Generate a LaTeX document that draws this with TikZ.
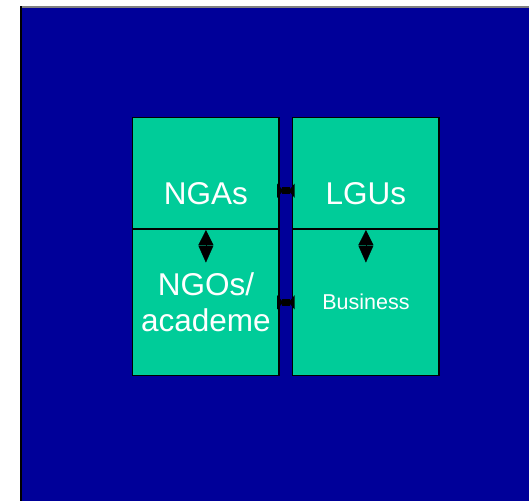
\documentclass[tikz,border=0pt]{standalone}
\usepackage{fontspec}
\setmainfont{Liberation Sans}
\usetikzlibrary{arrows.meta, positioning}
\definecolor{slideblue}{RGB}{0,0,153}
\definecolor{cellgreen}{RGB}{0,204,153}
\tikzstyle{cell} = [rectangle, draw=black, line width=1.6pt, fill=cellgreen, minimum width=146.5pt, inner sep=0pt, outer sep=0pt]
\tikzstyle{big} = [text=white, font=\fontsize{31.5}{36.5}\selectfont, align=center]
\tikzstyle{small} = [text=white, font=\fontsize{21.5}{25}\selectfont]
\tikzstyle{vlink} = [line width=0.4pt, {Triangle[length=15pt, width=15pt]}-{Triangle[length=17pt, width=15pt]}, black]
\tikzstyle{hlink} = [line width=7pt, {Triangle[reversed, length=6pt, width=14pt]}-{Triangle[reversed, length=6pt, width=14pt]}, black]

\begin{document}
\begin{tikzpicture}[x=1pt, y=1pt]

	% Background
	\useasboundingbox (0,0) rectangle (529,-501);
	\fill[slideblue] (20,-6) rectangle (529,-501);
	\draw[gray, line width=2pt] (20,-7) -- (529,-7);
	\draw[black, line width=2pt] (21,-6) -- (21,-501);

	% Boxes
	\node (ngas) [cell, minimum height=111.7pt] at (205.9,-173.2) {};
	\node (ngos) [cell, minimum height=146.5pt, below=0pt of ngas] {};
	\node (lgus) [cell, minimum height=111.7pt, right=13.5pt of ngas] {};
	\node (business) [cell, minimum height=146.5pt, below=0pt of lgus] {};

	% Labels
	\node (ngas_txt) [big] at ([yshift=-20pt]ngas.center) {NGAs};
	\node (lgus_txt) [big] at ([yshift=-20pt]lgus.center) {LGUs};
	\node (ngos_txt) [big] at (ngos.center) {NGOs/\\academe};
	\node (business_txt) [small] at (business.center) {Business};

	% Arrow ends
	\coordinate (ngos_a) at ([yshift=-33.5pt]ngas.south);
	\coordinate (business_a) at ([yshift=-33.5pt]lgus.south);

	% Arrows
	\draw[vlink] ([yshift=-1pt]ngas.south) -- (ngos_a);
	\draw[vlink] ([yshift=-1pt]lgus.south) -- (business_a);
	\draw[hlink] ([xshift=-2pt, yshift=-17.5pt]ngas.east) -- ([xshift=2pt, yshift=-17.5pt]lgus.west);
	\draw[hlink] ([xshift=-2pt]ngos.east) -- ([xshift=2pt]business.west);

\end{tikzpicture}
\end{document}
